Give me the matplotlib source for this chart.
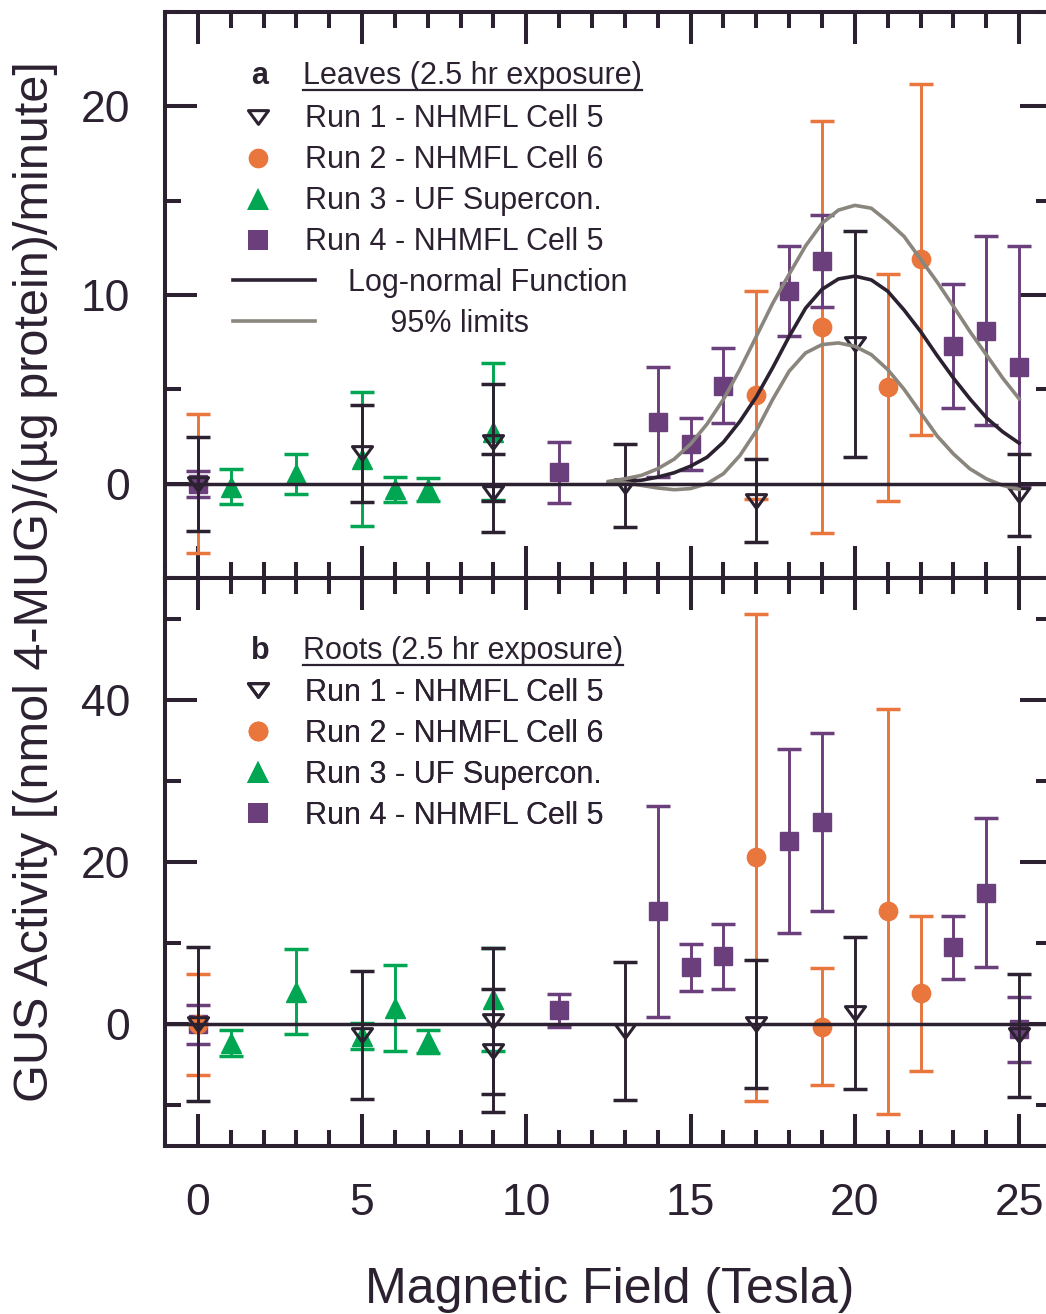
import matplotlib.pyplot as plt
from matplotlib.lines import Line2D
from matplotlib.path import Path
from matplotlib.ticker import MultipleLocator

plt.rcParams['font.family'] = ['Liberation Sans', 'DejaVu Sans']

# ---- panel a: leaves ----
leaf_r1_x = [0, 5, 9, 9, 13, 17, 20, 25]
leaf_r1_y = [0, 1.6, 2.2, -0.5, -0.1, -0.9, 7.4, -0.6]
leaf_r1_e = [2.5, 2.57, 3.1, 2.05, 2.2, 2.2, 6.0, 2.15]

leaf_r2_x = [0, 17, 19, 21, 22]
leaf_r2_y = [0, 4.7, 8.3, 5.1, 11.9]
leaf_r2_e = [3.7, 5.5, 10.9, 6.0, 9.3]

leaf_r3_x = [1, 3, 5, 6, 7, 9]
leaf_r3_y = [-0.15, 0.5, 1.3, -0.3, -0.3, 2.75]
leaf_r3_e = [0.92, 1.07, 3.55, 0.66, 0.6, 3.62]

leaf_r4_x = [0, 11, 14, 15, 16, 18, 19, 23, 24, 25]
leaf_r4_y = [0, 0.6, 3.27, 2.1, 5.2, 10.2, 11.8, 7.3, 8.1, 6.2]
leaf_r4_e = [0.68, 1.6, 2.9, 1.4, 2.0, 2.37, 2.46, 3.3, 5.0, 6.4]

# log-normal fit and 95% limits
fit_x = [12.5, 13, 13.5, 14, 14.5, 15, 15.5, 16, 16.5, 17, 17.5, 18, 18.5,
         19, 19.5, 20, 20.5, 21, 21.5, 22, 22.5, 23, 23.5, 24, 24.5, 25]
fit_mid = [0.05, 0.12, 0.18, 0.35, 0.58, 0.93, 1.4, 2.2, 3.3, 4.6, 6.15, 7.8, 9.3,
           10.3, 10.85, 11.0, 10.8, 10.2, 9.2, 8.07, 6.8, 5.6, 4.5, 3.5, 2.75, 2.15]
fit_hi = [0.12, 0.26, 0.44, 0.79, 1.3, 2.1, 3.16, 4.47, 6.05, 7.8, 9.56, 11.1, 12.6,
          13.8, 14.5, 14.75, 14.6, 13.9, 13.1, 11.9, 10.7, 9.4, 8.07, 6.84, 5.6, 4.5]
fit_lo = [0.02, 0.05, -0.09, -0.23, -0.32, -0.26, 0.0, 0.53, 1.49, 2.8, 4.47, 5.96, 6.93,
          7.37, 7.46, 7.28, 6.84, 6.05, 5.0, 3.77, 2.54, 1.58, 0.79, 0.26, -0.09, -0.3]

# ---- panel b: roots ----
root_r1_x = [0, 5, 9, 9, 13, 17, 20, 25]
root_r1_y = [0, -1.3, 0.35, -3.25, -0.8, 0, 1.4, -1.35]
root_r1_e = [9.5, 7.86, 9.0, 7.6, 8.5, 7.9, 9.4, 7.6]

root_r2_x = [0, 17, 19, 21, 22]
root_r2_y = [0, 20.6, -0.3, 13.9, 3.8]
root_r2_e = [6.2, 30.0, 7.2, 25.0, 9.6]

root_r3_x = [1, 3, 5, 6, 7, 9]
root_r3_y = [-2.3, 4.0, -1.5, 2.0, -2.1, 3.05]
root_r3_e = [1.58, 5.24, 1.6, 5.3, 1.4, 6.3]

root_r4_x = [0, 11, 14, 15, 16, 18, 19, 23, 24, 25]
root_r4_y = [0, 1.7, 13.9, 7.0, 8.4, 22.6, 24.9, 9.5, 16.2, -0.6]
root_r4_e = [2.4, 2.05, 13.0, 2.9, 4.0, 11.3, 11.0, 3.9, 9.2, 4.0]

run_labels = ['Run 1 - NHMFL Cell 5', 'Run 2 - NHMFL Cell 6',
              'Run 3 - UF Supercon.', 'Run 4 - NHMFL Cell 5']

dark = '#2b2130'
orange = '#e8763d'
green = '#00a651'
purple = '#6b3f7b'
grey = '#8a867e'

# squat open down-triangle like the original
tri = Path([(-1, 0.68), (1, 0.68), (0, -0.68), (-1, 0.68)],
           [Path.MOVETO, Path.LINETO, Path.LINETO, Path.CLOSEPOLY])

eb = dict(ls='none', elinewidth=2.1, capsize=8.6)


def draw_runs(ax, runs, order):
    r1, r2, r3, r4 = runs
    conts = []
    conts.append(ax.errorbar(r1[0], r1[1], yerr=r1[2], marker=tri, ms=14.5, mfc='none',
                             mec=dark, mew=2.2, color=dark, zorder=order[0], **eb))
    conts.append(ax.errorbar(r2[0], r2[1], yerr=r2[2], marker='o', ms=13.2, mew=1,
                             color=orange, zorder=order[1], **eb))
    conts.append(ax.errorbar(r3[0], r3[1], yerr=r3[2], marker='^', ms=14.5, mew=1,
                             color=green, zorder=order[2], **eb))
    conts.append(ax.errorbar(r4[0], r4[1], yerr=r4[2], marker='s', ms=12.7, mew=1,
                             color=purple, zorder=order[3], **eb))
    # thick caps
    for c in conts:
        for cap in c[1]:
            cap.set_markeredgewidth(2.5)


def style_axis(ax, ymaj, ymin):
    ax.set_xlim(-1, 26)
    ax.xaxis.set_major_locator(MultipleLocator(5))
    ax.xaxis.set_minor_locator(MultipleLocator(1))
    ax.yaxis.set_major_locator(MultipleLocator(ymaj))
    ax.yaxis.set_minor_locator(MultipleLocator(ymin))
    ax.tick_params(which='both', direction='in', top=True, right=True,
                   width=2.9, color=dark, labelcolor=dark, labelsize=32)
    ax.tick_params(which='major', length=23, pad=25)
    ax.tick_params(which='minor', length=11.5)
    ax.tick_params(axis='x', pad=27)
    for s in ax.spines.values():
        s.set_linewidth(2.9)
        s.set_color(dark)
    ax.axhline(0, color=dark, lw=2.5, zorder=6)


def add_legend(ax, anchor_y):
    hands = [Line2D([], [], ls='none', marker=tri, ms=14.5, mfc='none', mec=dark, mew=2.2),
             Line2D([], [], ls='none', marker='o', ms=14.2, mew=0, color=orange),
             Line2D([], [], ls='none', marker='^', ms=15.5, mew=0, color=green),
             Line2D([], [], ls='none', marker='s', ms=13.7, mew=0, color=purple)]
    leg = ax.legend(hands, run_labels, loc='upper left', bbox_to_anchor=(0.0876, anchor_y),
                    frameon=False, fontsize=22, handlelength=1.0, handletextpad=1.04,
                    labelspacing=0.36, borderpad=0, borderaxespad=0, labelcolor=dark)
    ax.add_artist(leg)
    return leg


fig = plt.figure(figsize=(10.46, 13.14), dpi=100)
ax1 = fig.add_axes([0.1577, 0.5601, 0.848, 0.4308])
ax2 = fig.add_axes([0.1577, 0.1279, 0.848, 0.4322])

# panel a
draw_runs(ax1, [(leaf_r1_x, leaf_r1_y, leaf_r1_e), (leaf_r2_x, leaf_r2_y, leaf_r2_e),
                (leaf_r3_x, leaf_r3_y, leaf_r3_e), (leaf_r4_x, leaf_r4_y, leaf_r4_e)],
          order=[4.4, 3.0, 4.2, 3.5])
l_mid, = ax1.plot(fit_x, fit_mid, color=dark, lw=2.6, zorder=5)
l_hi, = ax1.plot(fit_x, fit_hi, color=grey, lw=2.6, zorder=5)
ax1.plot(fit_x, fit_lo, color=grey, lw=2.6, zorder=5)
ax1.set_ylim(-5, 25)
style_axis(ax1, 10, 5)
ax1.tick_params(labelbottom=False)

add_legend(ax1, 0.837)
leg_fit = ax1.legend([l_mid, l_hi], ['Log-normal Function', '     95% limits'],
                     loc='upper left', bbox_to_anchor=(0.0767, 0.5477), frameon=False,
                     fontsize=22, handlelength=2.7, handletextpad=1.05, labelspacing=0.36,
                     borderpad=0, borderaxespad=0, labelcolor=dark)

# panel b
draw_runs(ax2, [(root_r1_x, root_r1_y, root_r1_e), (root_r2_x, root_r2_y, root_r2_e),
                (root_r3_x, root_r3_y, root_r3_e), (root_r4_x, root_r4_y, root_r4_e)],
          order=[4.4, 3.5, 4.2, 3.0])
ax2.set_ylim(-15, 55)
style_axis(ax2, 20, 10)
add_legend(ax2, 0.824)

# panel headers
heads = []
for ax, letter, title, yy in [(ax1, 'a', 'Leaves (2.5 hr exposure)', 0.886),
                              (ax2, 'b', 'Roots (2.5 hr exposure)', 0.872)]:
    ax.text(0.107, yy, letter, transform=ax.transAxes, ha='center', va='center',
            fontsize=22, fontweight='bold', color=dark)
    heads.append(ax.text(0.1556, yy, title, transform=ax.transAxes, ha='left',
                         va='center', fontsize=22, color=dark))

fig.text(0.583, 1 - 1290 / 1314, 'Magnetic Field (Tesla)', ha='center', va='center',
         fontsize=36, color=dark)
fig.text(0.034, 1 - 582 / 1314, 'GUS Activity [(nmol 4-MUG)/(\u00b5g protein)/minute]',
         rotation=90, ha='center', va='center', fontsize=35, color=dark)

# underline the panel titles
fig.canvas.draw()
inv = fig.transFigure.inverted()
for t in heads:
    bb = t.get_window_extent()
    (x0, y0), (x1, _) = inv.transform([(bb.x0, bb.y0 + 1), (bb.x1, bb.y0 + 1)])
    fig.add_artist(Line2D([x0, x1], [y0, y0], color=dark, lw=1.6))

fig.savefig('out.png', dpi=100)
